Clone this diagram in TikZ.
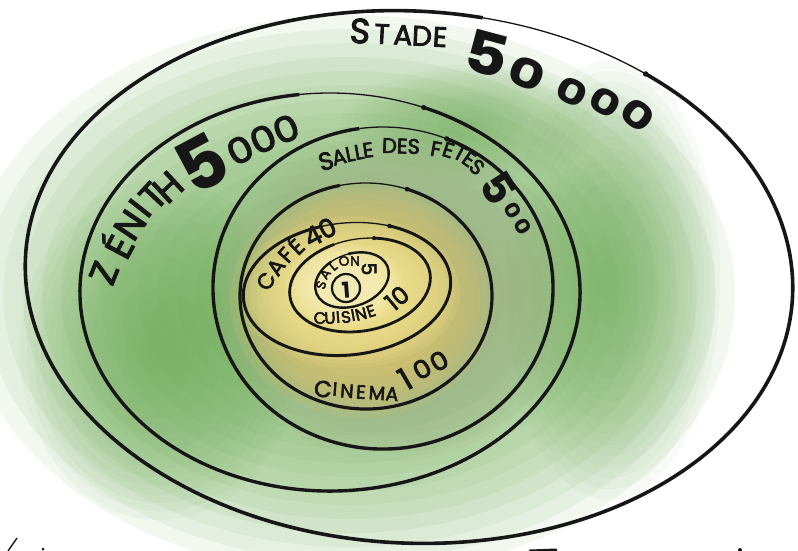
\documentclass[tikz,border=0pt]{standalone}
\usepackage{fontspec}
\setmainfont{Poppins}
\newfontfamily\hand{Poppins}[FakeBold=3]
\newfontfamily\handb{Poppins Bold}
\definecolor{ink}{RGB}{22,22,22}
\definecolor{wgreen}{RGB}{112,174,90}
\definecolor{wgray}{RGB}{168,180,142}
\definecolor{wochre}{RGB}{218,196,110}
\definecolor{wyellow}{RGB}{242,228,146}
\definecolor{wbright}{RGB}{250,242,190}
\newcommand\wblob[6]{%
  \foreach \i in {0,...,19}{\fill[#5, opacity=#6] (#1,#2) ellipse[x radius={#3*(1-\i/20)}, y radius={#4*(1-\i/20)}];}}
\newcommand\myring[8]{%
  \begin{scope}[rotate around={#5:(#1,#2)}]
    \draw[ink, line width=#8] ([shift={(#1,#2)}]#7:#3 and #4) arc[start angle=#7, end angle=#6+360, x radius=#3, y radius=#4];
    \draw[ink, line width=1.3pt] ([shift={(#1,#2)}]#6:#3 and #4) arc[start angle=#6, end angle=#7, x radius=#3, y radius=#4];
    \fill[ink] ([shift={(#1,#2)}]#7:#3 and #4) circle[radius=#8*0.75];
  \end{scope}}
\tikzset{
  lab/.style={inner sep=0pt, text=ink}
}
\begin{document}
\begin{tikzpicture}[x=1pt,y=-1pt]
\useasboundingbox (0,0) rectangle (798,550);
\fill[white] (0,0) rectangle (798,550);
% watercolour washes
\wblob{350}{295}{385}{280}{wgreen}{0.09}
\wblob{610}{280}{110}{220}{wgreen}{0.05}
\wblob{160}{350}{140}{170}{wgreen}{0.06}
\wblob{470}{125}{130}{60}{wgreen}{0.04}
\wblob{392}{295}{178}{166}{wgray}{0.11}
\wblob{362}{300}{132}{118}{wochre}{0.16}
\wblob{350}{292}{110}{76}{wyellow}{0.14}
\wblob{345}{285}{60}{42}{wbright}{0.12}
% rings: cx, cy, a, b, rot, thin start, thin end, width
\myring{409}{277}{384}{266}{-3}{-81}{-54}{3.6pt}
\myring{330}{292}{250}{199}{0}{-97}{-68}{3.4pt}
\myring{383}{288}{170}{161}{0}{-98}{-68}{3.4pt}
\myring{366}{296}{126}{113}{0}{-102}{-71}{3.2pt}
\myring{347}{289}{104}{66}{6}{-100}{-62}{3pt}
\myring{360}{285}{71}{46}{10}{-105}{-72}{2.8pt}
\myring{352}{280}{38}{26}{20}{-110}{-80}{2.4pt}
\draw[ink, line width=2.2pt] (346,288) circle[radius=14];
% STADE 50 000
\foreach \x/\y/\c/\s [count=\k] in {360/31/S/35, 382/34/T/28, 403/35/A/28, 422/36/D/28, 440/37/E/28}
  \node[lab, rotate=-3, font=\hand\fontsize{\s}{\s}\selectfont] (st\k) at (\x,\y) {\c};
\node[lab, rotate=-15, xscale=1.15, font=\handb\fontsize{58}{58}\selectfont] (sn0) at (487,54) {5};
\foreach \x/\y/\r/\s [count=\k] in {527/74/-22/40, 572/92/-26/34, 605/102/-30/34, 638/115/-38/36}
  \node[lab, rotate=\r, xscale=1.4, font=\handb\fontsize{\s}{\s}\selectfont] (sn\k) at (\x,\y) {0};
% ZENITH 5 000
\foreach \x/\y/\r/\c [count=\k] in {104/273/68/Z, 116/245/62/É, 130/225/56/N, 140/208/52/I, 153/196/47/T, 168/187/43/H}
  \node[lab, rotate=\r, font=\hand\fontsize{37}{37}\selectfont] (zl\k) at (\x,\y) {\c};
\node[lab, rotate=28, font=\handb\fontsize{72}{72}\selectfont] (z5) at (202,163) {5};
\foreach \x/\y/\r [count=\k] in {240/150/27, 263/139/25, 286/129/23}
  \node[lab, rotate=\r, xscale=1.15, font=\hand\fontsize{35}{35}\selectfont] (zn\k) at (\x,\y) {0};
% SALLE DES FETES 500
\foreach \x/\y/\r/\c/\s [count=\k] in {326/161/16/S/25, 339/157/14/A/21, 350/154/12/L/21, 359/152/10/L/21, 368/150/8/E/21}
  \node[lab, rotate=\r, font=\hand\fontsize{\s}{\s}\selectfont] (sl\k) at (\x,\y) {\c};
\node[lab, rotate=-2, font=\hand\fontsize{21}{21}\selectfont] (des) at (401,146) {DES};
\foreach \x/\y/\r/\c [count=\k] in {436/149/-10/F, 449/148/-18/Ê, 460/153/-28/T, 469/159/-35/E, 477/167/-42/S}
  \node[lab, rotate=\r, font=\hand\fontsize{21}{21}\selectfont] (fl\k) at (\x,\y) {\c};
\node[lab, rotate=-58, font=\handb\fontsize{44}{44}\selectfont] (s5) at (499,188) {5};
\foreach \x/\y [count=\k] in {513/211, 523/227}
  \node[lab, rotate=-60, xscale=1.2, font=\handb\fontsize{20}{20}\selectfont] (so\k) at (\x,\y) {0};
% CINEMA 100
\foreach \x/\y/\c/\s [count=\k] in {323/389/C/23, 335/389/I/19, 347/391/N/19, 361/392/E/19, 377/393/M/19, 392/394/A/19}
  \node[lab, rotate=-4, font=\hand\fontsize{\s}{\s}\selectfont] (cl\k) at (\x,\y) {\c};
\node[lab, rotate=30, font=\hand\fontsize{31}{31}\selectfont] (c1) at (405,379) {1};
\foreach \x/\y [count=\k] in {422/369, 439/361}
  \node[lab, rotate=30, xscale=1.1, font=\hand\fontsize{25}{25}\selectfont] (co\k) at (\x,\y) {0};
% CAFE 40
\foreach \x/\y/\r/\c [count=\k] in {266/281/62/C, 276/267/55/A, 286/255/48/F, 295/245/44/É}
  \node[lab, rotate=\r, font=\hand\fontsize{22}{22}\selectfont] (ca\k) at (\x,\y) {\c};
\node[lab, rotate=28, font=\hand\fontsize{26}{26}\selectfont] (c40) at (320,232) {40};
% CUISINE 10
\foreach \x/\y/\r/\c [count=\k] in {320/318/0/C, 330/318/3/U, 338/317/5/I, 346/317/8/S, 353/315/10/I, 361/314/14/N, 371/311/18/E}
  \node[lab, rotate=\r, font=\hand\fontsize{16.5}{16.5}\selectfont] (cu\k) at (\x,\y) {\c};
\node[lab, rotate=40, font=\hand\fontsize{24}{24}\selectfont] (cu10) at (397,298) {10};
% SALON 5
\foreach \x/\y/\r/\c [count=\k] in {321/285/72/S, 325/274/56/A, 333/266/40/L, 344/261/18/O, 355/261/0/N}
  \node[lab, rotate=\r, font=\hand\fontsize{13.5}{13.5}\selectfont] (sa\k) at (\x,\y) {\c};
\node[lab, rotate=-90, font=\hand\fontsize{20}{20}\selectfont] (sa5) at (369,269) {5};
\node[lab, rotate=5, font=\handb\fontsize{22}{22}\selectfont] (one) at (346,290) {1};
% cut-off marks at the bottom edge
\draw[ink, line width=1.4pt] (8,551) -- (17,538);
\fill[ink] (43,549) circle[radius=1.5];
\draw[ink, line width=3pt, line cap=round] (530,551) -- (556,550);
\fill[ink] (740,550) circle[radius=2];
\end{tikzpicture}
\end{document}
